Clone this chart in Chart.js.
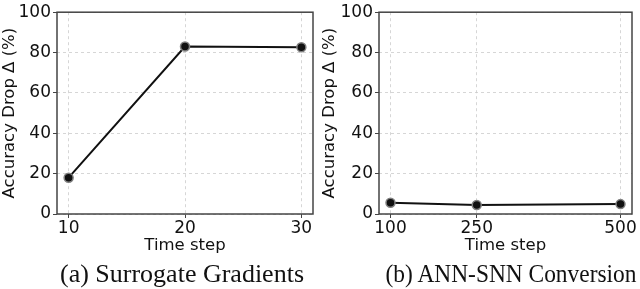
<!DOCTYPE html>
<html>
<head>
<meta charset="utf-8">
<script src="https://cdn.jsdelivr.net/npm/chart.js@4/dist/chart.umd.min.js"></script>
<style>
    html, body { margin: 0; padding: 0; background: #fff; }
    #wrap { position: relative; width: 640px; height: 289px; overflow: hidden; }
    .panel { position: absolute; top: 0; width: 320px; height: 289px; }
    .caption {
        position: absolute; top: 261px; width: 320px; text-align: center;
        font-family: "Liberation Serif", "Times New Roman", serif; font-size: 26px;
        line-height: 26px; color: #111; white-space: nowrap;
    }
</style>
</head>
<body>
<div id="wrap">
    <div class="panel" style="left:0"><canvas id="chartA" width="320" height="289"></canvas></div>
    <div class="panel" style="left:320px"><canvas id="chartB" width="320" height="289"></canvas></div>
    <div class="caption" style="left:22px">(a) Surrogate Gradients</div>
    <div class="caption" style="left:351px; transform:scaleX(0.9); transform-origin:center">(b) ANN-SNN Conversion</div>
</div>
<script>
// data
const stepsA = [10, 20, 30];
const dropA = [18.0, 83.0, 82.6];
const stepsB = [100, 250, 500];
const dropB = [5.6, 4.5, 4.9];
const yTicks = [0, 20, 40, 60, 80, 100];

const tickFont = { family: "DejaVu Sans", size: 17 };
const titleFont = { family: "DejaVu Sans", size: 16.5 };

// box around the plot area, like matplotlib spines
const framePlugin = {
    id: "frame",
    beforeDatasetsDraw(chart) {
        const { ctx, chartArea: a } = chart;
        ctx.save();
        ctx.strokeStyle = "#444";
        ctx.lineWidth = 1.5;
        ctx.strokeRect(a.left, a.top, a.right - a.left, a.bottom - a.top);
        ctx.restore();
    }
};

function makeChart(id, steps, drops, xMin, xMax, yWidth, pad) {
    const points = steps.map((s, i) => ({ x: s, y: drops[i] }));
    const grid = {
        color: "#cccccc",
        lineWidth: 0.8,
        drawTicks: true,
        tickLength: 4,
        tickColor: "#444",
        tickWidth: 1,
        tickBorderDash: []
    };
    // in v4 the grid line dash lives under border
    const border = { display: false, dash: [3, 3] };

    return new Chart(document.getElementById(id), {
        type: "line",
        data: {
            datasets: [{
                data: points,
                borderColor: "#111",
                borderWidth: 2,
                pointRadius: 4.5,
                pointBorderWidth: 1.5,
                pointBackgroundColor: "#111",
                pointBorderColor: "#808080",
                tension: 0
            }]
        },
        options: {
            responsive: false,
            animation: false,
            layout: { padding: pad },
            plugins: { legend: { display: false }, tooltip: { enabled: false } },
            scales: {
                x: {
                    type: "linear",
                    min: xMin,
                    max: xMax,
                    afterBuildTicks: (scale) => { scale.ticks = steps.map(v => ({ value: v })); },
                    afterFit: (scale) => { scale.height = 45; },
                    grid: grid,
                    border: border,
                    ticks: { color: "#111", font: tickFont, padding: 0, maxRotation: 0 },
                    title: { display: true, text: "Time step", color: "#111", font: titleFont, padding: { top: 0, bottom: 3 } }
                },
                y: {
                    min: 0,
                    max: 100,
                    afterBuildTicks: (scale) => { scale.ticks = yTicks.map(v => ({ value: v })); },
                    afterFit: (scale) => { scale.width = yWidth; },
                    grid: grid,
                    border: border,
                    ticks: { color: "#111", font: tickFont, padding: 2 },
                    title: { display: true, text: "Accuracy Drop Δ (%)", color: "#111", font: titleFont, padding: 0 }
                }
            }
        },
        plugins: [framePlugin]
    });
}

makeChart("chartA", stepsA, dropA, 9, 31, 57, { top: 6, right: 7, bottom: 30, left: 0 });
makeChart("chartB", stepsB, dropB, 80, 520, 59, { top: 11, right: 8, bottom: 30, left: 0 });
</script>
</body>
</html>
